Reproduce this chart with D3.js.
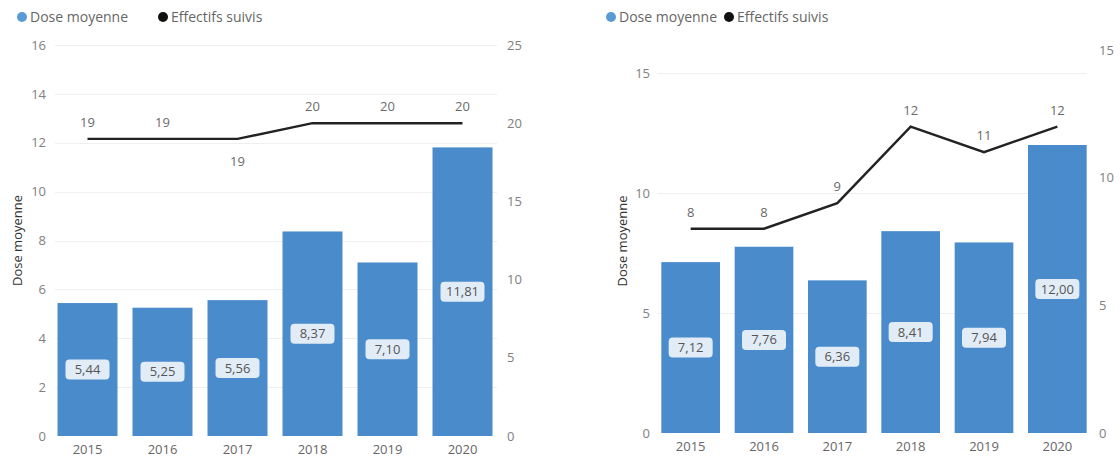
<!DOCTYPE html>
<html>
<head>
<meta charset="utf-8">
<script src="https://cdn.jsdelivr.net/npm/d3@7"></script>
<style>
  body { margin: 0; background: #fff; }
  svg text { font-family: "Open Sans", "Noto Sans", sans-serif; }
</style>
</head>
<body>
<svg id="chart" width="1120" height="461"></svg>
<script>
// Years shared by both panels
const years = ["2015", "2016", "2017", "2018", "2019", "2020"];

// Left panel
const doseA = [5.44, 5.25, 5.56, 8.37, 7.10, 11.81];
const effectifsA = [19, 19, 19, 20, 20, 20];
const effLabelSideA = ["above", "above", "below", "above", "above", "above"];
const doseTicksA = [0, 2, 4, 6, 8, 10, 12, 14, 16];
const effTicksA = [0, 5, 10, 15, 20, 25];

// Right panel
const doseB = [7.12, 7.76, 6.36, 8.41, 7.94, 12.00];
const effectifsB = [8, 8, 9, 12, 11, 12];
const effLabelSideB = ["above", "above", "above", "above", "above", "above"];
const doseTicksB = [0, 5, 10, 15];
const effTicksB = [0, 5, 10, 15];

const legendLabels = ["Dose moyenne", "Effectifs suivis"];
const yTitle = "Dose moyenne";

const BAR = "#4a8bcb";
const fmt = v => d3.format(".2f")(v).replace(".", ",");

const svg = d3.select("#chart");

function panel(cfg) {
  const g = svg.append("g");
  const x = d3.scaleBand().domain(years).range(cfg.xRange).paddingInner(0.2).paddingOuter(0.1);
  const yL = d3.scaleLinear().domain(cfg.doseDomain).range([cfg.bottom, cfg.topL]);
  const yR = d3.scaleLinear().domain(cfg.effDomain).range([cfg.bottom, cfg.topR]);

  // legend
  const lg = g.append("g");
  lg.append("circle").attr("cx", cfg.legend[0]).attr("cy", 17).attr("r", 5).attr("fill", "#5b9bd5");
  lg.append("text").attr("x", cfg.legend[0] + 8).attr("y", 22).attr("font-size", 14).attr("fill", "#666").text(legendLabels[0]);
  lg.append("circle").attr("cx", cfg.legend[1]).attr("cy", 17).attr("r", 5).attr("fill", "#111");
  lg.append("text").attr("x", cfg.legend[1] + 8).attr("y", 22).attr("font-size", 14).attr("fill", "#666").text(legendLabels[1]);

  // gridlines
  g.append("g").selectAll("line").data(cfg.doseTicks.filter(t => t > 0)).join("line")
    .attr("x1", cfg.grid[0]).attr("x2", cfg.grid[1])
    .attr("y1", d => Math.round(yL(d)) + 0.5).attr("y2", d => Math.round(yL(d)) + 0.5)
    .attr("stroke", "#efefef").attr("stroke-width", 1);

  // left axis
  const axL = g.append("g").attr("transform", `translate(${cfg.leftAxisX},0)`)
    .call(d3.axisLeft(yL).tickValues(cfg.doseTicks).tickSize(0).tickPadding(0));
  axL.select(".domain").remove();
  axL.selectAll("text").attr("font-size", 13).attr("fill", "#808080").attr("font-family", null);

  // right axis
  const axR = g.append("g").attr("transform", `translate(${cfg.rightAxisX},0)`)
    .call(d3.axisRight(yR).tickValues(cfg.effTicks).tickSize(0).tickPadding(0));
  axR.select(".domain").remove();
  axR.selectAll("text").attr("font-size", 13).attr("fill", "#808080").attr("font-family", null);

  // bottom axis
  const axB = g.append("g").attr("transform", `translate(0,${cfg.bottom})`)
    .call(d3.axisBottom(x).tickSize(0).tickPadding(9));
  axB.select(".domain").remove();
  axB.selectAll("text").attr("font-size", 13).attr("fill", "#666").attr("font-family", null);

  // y title
  g.append("text")
    .attr("transform", `translate(${cfg.titleX},${(cfg.bottom + cfg.topL) / 2}) rotate(-90)`)
    .attr("text-anchor", "middle").attr("font-size", 13).attr("fill", "#333").text(yTitle);

  // bars
  g.append("g").selectAll("rect").data(cfg.dose).join("rect")
    .attr("x", (d, i) => x(years[i])).attr("width", x.bandwidth())
    .attr("y", d => yL(d)).attr("height", d => yL(0) - yL(d))
    .attr("fill", BAR);

  // bar value labels
  const bl = g.append("g").selectAll("g").data(cfg.dose).join("g")
    .attr("transform", (d, i) => `translate(${x(years[i]) + x.bandwidth() / 2},${(yL(d) + yL(0)) / 2})`);
  bl.append("rect").attr("x", -22).attr("y", -10).attr("width", 44).attr("height", 20).attr("rx", 4)
    .attr("fill", "#e2ecf7");
  bl.append("text").attr("text-anchor", "middle").attr("dy", "0.35em").attr("font-size", 13)
    .attr("fill", "#555").text(d => fmt(d));

  // effectifs line
  const line = d3.line().x((d, i) => x(years[i]) + x.bandwidth() / 2).y(d => yR(d));
  g.append("path").datum(cfg.eff).attr("d", line).attr("fill", "none")
    .attr("stroke", "#222").attr("stroke-width", 2.4);

  g.append("g").selectAll("text").data(cfg.eff).join("text")
    .attr("x", (d, i) => x(years[i]) + x.bandwidth() / 2)
    .attr("y", (d, i) => yR(d) + (cfg.side[i] === "below" ? 27 : -12))
    .attr("text-anchor", "middle").attr("font-size", 13).attr("fill", "#6a6a6a")
    .text(d => d);
}

panel({
  xRange: [50, 500], bottom: 436, topL: 45, topR: 45,
  doseDomain: [0, 16], effDomain: [0, 25],
  doseTicks: doseTicksA, effTicks: effTicksA,
  dose: doseA, eff: effectifsA, side: effLabelSideA,
  grid: [55, 497], leftAxisX: 46, rightAxisX: 507, titleX: 22,
  legend: [22, 163]
});

panel({
  xRange: [654, 1094], bottom: 433, topL: 49, topR: 50,
  doseDomain: [0, 16], effDomain: [0, 15],
  doseTicks: doseTicksB, effTicks: effTicksB,
  dose: doseB, eff: effectifsB, side: effLabelSideB,
  grid: [657, 1087], leftAxisX: 650, rightAxisX: 1099, titleX: 627,
  legend: [611, 729]
});
</script>
</body>
</html>
